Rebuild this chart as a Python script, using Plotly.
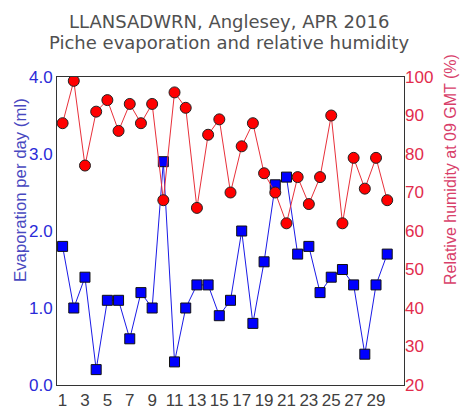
import plotly.graph_objects as go

days = list(range(1, 31))
evaporation = [1.8, 1.0, 1.4, 0.2, 1.1, 1.1, 0.6, 1.2, 1.0, 2.9,
               0.3, 1.0, 1.3, 1.3, 0.9, 1.1, 2.0, 0.8, 1.6, 2.6,
               2.7, 1.7, 1.8, 1.2, 1.4, 1.5, 1.3, 0.4, 1.3, 1.7]
humidity = [88, 99, 77, 91, 94, 86, 93, 88, 93, 68,
            96, 92, 66, 85, 89, 70, 82, 88, 75, 70,
            62, 74, 67, 74, 90, 62, 79, 71, 79, 68]
x_ticks = list(range(1, 31, 2))
left_ticks = [0.0, 1.0, 2.0, 3.0, 4.0]
right_ticks = [20, 30, 40, 50, 60, 70, 80, 90, 100]

fig = go.Figure()
fig.add_trace(go.Scatter(
    x=days, y=evaporation, mode="lines+markers",
    line=dict(color="#1a1ae6", width=1),
    marker=dict(symbol="square", size=10, color="#0000ff",
                line=dict(color="#111111", width=1)),
    yaxis="y", showlegend=False))
fig.add_trace(go.Scatter(
    x=days, y=humidity, mode="lines+markers",
    line=dict(color="#e8303a", width=1),
    marker=dict(symbol="circle", size=11, color="#ff0000",
                line=dict(color="#222222", width=1)),
    yaxis="y2", showlegend=False))

# plot area in page pixels: x 57..404, y 77..385 (page has 8px body margin)
def px(xp):
    return (xp - 57) / 347

def py(yp):
    return (385 - yp) / 308

title_font = dict(family="DejaVu Sans, Verdana, sans-serif", size=18, color="#505050")

fig.update_layout(
    width=460, height=411,
    margin=dict(l=49, r=64, t=69, b=34, autoexpand=False),
    paper_bgcolor="white", plot_bgcolor="white",
    font=dict(family="Liberation Sans, Arial, sans-serif"),
    xaxis=dict(range=[0.5, 31.5], tickvals=x_ticks, ticktext=[str(v) for v in x_ticks],
               showgrid=False, zeroline=False, ticks="", automargin=False,
               tickfont=dict(size=17, color="#404040"),
               showline=True, linecolor="#333333", linewidth=1, mirror=True),
    yaxis=dict(range=[0, 4], tickvals=left_ticks,
               ticktext=[f"{v:.1f}" for v in left_ticks],
               showgrid=False, zeroline=False, ticks="", automargin=False,
               tickfont=dict(size=17, color="#2a2ad8"),
               showline=True, linecolor="#333333", linewidth=1, mirror=True),
    yaxis2=dict(range=[20, 100], tickvals=right_ticks,
                overlaying="y", side="right", automargin=False,
                showgrid=False, zeroline=False, ticks="",
                tickfont=dict(size=17, color="#e22c4c"),
                showline=False),
    annotations=[
        dict(text="LLANSADWRN, Anglesey, APR 2016", xref="paper", yref="paper",
             x=px(229), y=py(22), xanchor="center", yanchor="middle",
             showarrow=False, font=title_font),
        dict(text="Piche evaporation and relative humidity", xref="paper", yref="paper",
             x=px(229), y=py(43), xanchor="center", yanchor="middle",
             showarrow=False, font=title_font),
        dict(text="Evaporation per day (ml)", textangle=-90,
             xref="paper", yref="paper", x=px(20), y=py(190),
             xanchor="center", yanchor="middle", showarrow=False,
             font=dict(size=16.8, color="#4848c0")),
        dict(text="Relative humidity at 09 GMT (%)", textangle=-90,
             xref="paper", yref="paper", x=px(450), y=py(170),
             xanchor="center", yanchor="middle", showarrow=False,
             font=dict(size=16, color="#d8406a")),
    ],
)

fig.write_html("out.html")
